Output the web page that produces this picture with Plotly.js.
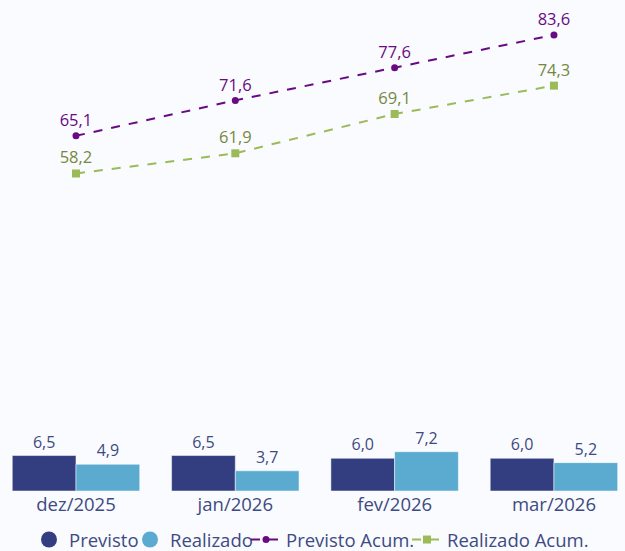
<!DOCTYPE html>
<html><head><meta charset="utf-8">
<script src="https://cdn.plot.ly/plotly-3.0.1.min.js"></script>
<style>html,body{margin:0;padding:0;background:#F9FBFE;}</style>
</head><body>
<div id="chart" style="width:625px;height:551px;"></div>
<script>
const categories = ["dez/2025", "jan/2026", "fev/2026", "mar/2026"];
const previsto = [6.5, 6.5, 6.0, 6.0];
const realizado = [4.9, 3.7, 7.2, 5.2];
const previstoAcum = [65.1, 71.6, 77.6, 83.6];
const realizadoAcum = [58.2, 61.9, 69.1, 74.3];

const FONT = "Open Sans, Noto Sans, sans-serif";
const cPrev = "#323E80", cReal = "#5AABCF", cPA = "#6A0A82", cRA = "#9BBB59";

const traces = [
  {type:"bar", x:categories, y:previsto, name:"Previsto", marker:{color:cPrev, line:{color:"rgba(255,255,255,0.5)", width:1}}, showlegend:false,
   texttemplate:"%{y:.1f}", textposition:"outside", textfont:{color:"#3E4A82", size:16, family:FONT}, cliponaxis:false},
  {type:"bar", x:categories, y:realizado, name:"Realizado", marker:{color:cReal, line:{color:"rgba(255,255,255,0.5)", width:1}}, showlegend:false,
   texttemplate:"%{y:.1f}", textposition:"outside", textfont:{color:"#3E4A82", size:16, family:FONT}, cliponaxis:false},
  {type:"scatter", mode:"markers", x:[null], y:[null], name:"Previsto", legend:"legend",
   marker:{color:cPrev, size:18, symbol:"circle"}},
  {type:"scatter", mode:"markers", x:[null], y:[null], name:"Realizado", legend:"legend2",
   marker:{color:cReal, size:18, symbol:"circle"}},
  {type:"scatter", mode:"lines+markers+text", x:categories, y:previstoAcum, name:"Previsto Acum.", legend:"legend3",
   line:{color:cPA, width:2, dash:"dash"}, marker:{color:cPA, size:7, symbol:"circle"},
   texttemplate:"%{y:.1f}", textposition:"top center", textfont:{color:cPA, size:16.5, family:FONT}, cliponaxis:false},
  {type:"scatter", mode:"lines+markers+text", x:categories, y:realizadoAcum, name:"Realizado Acum.", legend:"legend4",
   line:{color:cRA, width:2, dash:"dash"}, marker:{color:cRA, size:8, symbol:"square"},
   texttemplate:"%{y:.1f}", textposition:"top center", textfont:{color:"#76883E", size:16.5, family:FONT}, cliponaxis:false}
];

function leg(xpx) {
  return {orientation:"h", x:xpx/625, xanchor:"left", yref:"container", y:(551-540)/551, yanchor:"middle",
          font:{size:18.5, color:"#3E4A82", family:FONT}, bgcolor:"rgba(0,0,0,0)", itemwidth:30};
}

const layout = {
  width:625, height:551,
  margin:{l:0, r:0, t:0, b:60, autoexpand:false},
  paper_bgcolor:"#F9FBFE", plot_bgcolor:"#F9FBFE",
  separators:",.",
  font:{family:FONT, color:"#3E4A82"},
  barmode:"group", bargap:0.2, bargroupgap:0,
  xaxis:{type:"category", range:[-0.477, 3.446], showgrid:false, zeroline:false, showline:false, automargin:false,
         ticks:"", tickfont:{size:18.5, color:"#3E4A82", family:FONT}},
  yaxis:{range:[0, 90], visible:false, showgrid:false, zeroline:false, automargin:false},
  showlegend:true,
  legend:leg(29), legend2:leg(130), legend3:leg(246), legend4:leg(407)
};

Plotly.newPlot("chart", traces, layout, {displayModeBar:false, staticPlot:true});
</script>
</body></html>
